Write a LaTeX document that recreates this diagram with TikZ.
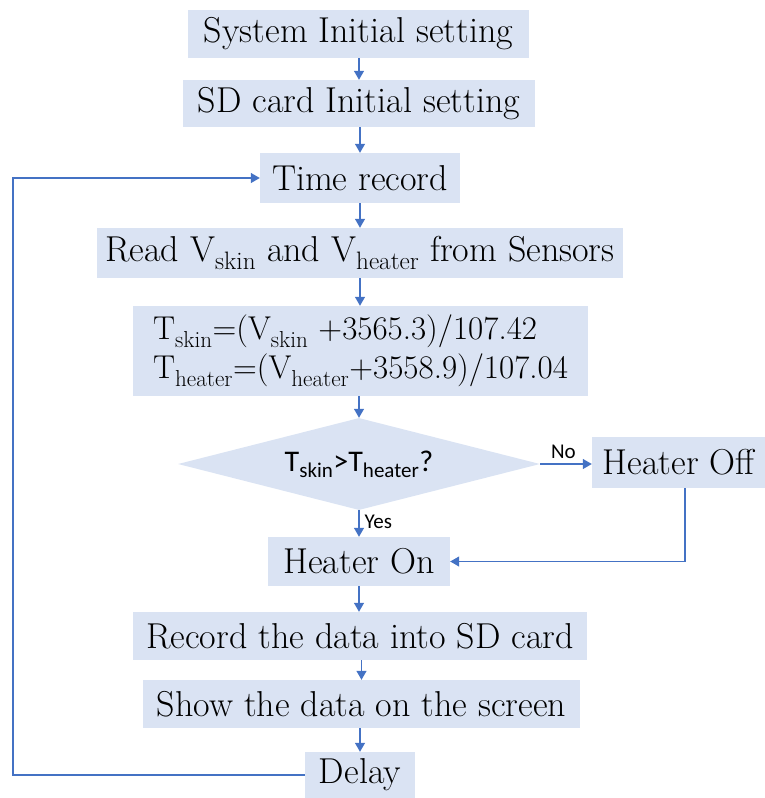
\documentclass[tikz,border=0pt]{standalone}
\usepackage{fontspec}
\newfontfamily\sansf{Carlito}
\usetikzlibrary{arrows.meta,shapes.geometric}
\definecolor{boxfill}{HTML}{DAE3F3}
\definecolor{linec}{HTML}{4472C4}
\tikzset{
  box/.style={fill=boxfill, draw=none, inner sep=0pt, font=\fontsize{36}{38}\selectfont},
  dec/.style={diamond, fill=boxfill, draw=none, inner sep=0pt, shape aspect=3.93,
              font=\sansf\fontsize{30}{32}\selectfont},
  arr/.style={draw=linec, line width=1.2pt, -{Triangle[width=10pt,length=9pt]}},
  lbl/.style={font=\sansf\fontsize{21}{23}\selectfont, inner sep=0pt}
}
\begin{document}
\begin{tikzpicture}[x=1pt,y=-1pt]
\useasboundingbox (0,0) rectangle (765,798);
\node[box, minimum width=341, minimum height=48] (n1) at (358.5,34) {System Initial setting};
\node[box, minimum width=352, minimum height=47] (n2) at (359,103.5) {SD card Initial setting};
\node[box, minimum width=200, minimum height=50] (n3) at (360,178) {Time record};
\node[box, minimum width=526, minimum height=50] (n4) at (360,253) {Read V\textsubscript{skin} and V\textsubscript{heater} from Sensors};
\node[box, minimum width=455, minimum height=90, align=left, font=\fontsize{33}{39}\selectfont] (n5) at (360.5,351)
  {T\textsubscript{skin}=(V\textsubscript{skin} +3565.3)/107.42\\T\textsubscript{heater}=(V\textsubscript{heater}+3558.9)/107.04};
\node[dec, minimum width=362, minimum height=92] (d) at (359,464) {T\textsubscript{skin}>T\textsubscript{heater}?};
\node[box, minimum width=173, minimum height=51] (off) at (678.5,462.5) {Heater Off};
\node[box, minimum width=182, minimum height=49] (on) at (359,561.5) {Heater On};
\node[box, minimum width=454, minimum height=48] (rec) at (360,636) {Record the data into SD card};
\node[box, minimum width=437, minimum height=48] (show) at (361.5,704) {Show the data on the screen};
\node[box, minimum width=110, minimum height=46] (delay) at (360,775) {Delay};
\coordinate (lx) at (13,0);
\coordinate (rx) at (685,561.5);
\draw[arr] (n1.south -| n2.north) -- (n2.north);
\draw[arr] (n2.south -| n3.north) -- (n3.north);
\draw[arr] (n3.south) -- (n3.south |- n4.north);
\draw[arr] (n4.south) -- (n4.south |- n5.north);
\draw[arr] (n5.south -| d.north) -- (d.north);
\draw[arr] (d.east) -- (d.east -| off.west) node[lbl, pos=0.45, above=5pt] {No};
\draw[arr] (d.south) -- (d.south |- on.north) node[lbl, pos=0.45, right=5pt] {Yes};
\draw[arr] (off.south -| rx) -- (rx) -- (on.east);
\draw[arr] (on.south) -- (on.south |- rec.north);
\draw[arr] (rec.south -| show.north) -- (show.north);
\draw[arr] (show.south -| delay.north) -- (delay.north);
\draw[arr] (delay.west) -- (delay.west -| lx) |- (n3.west);
\end{tikzpicture}
\end{document}
